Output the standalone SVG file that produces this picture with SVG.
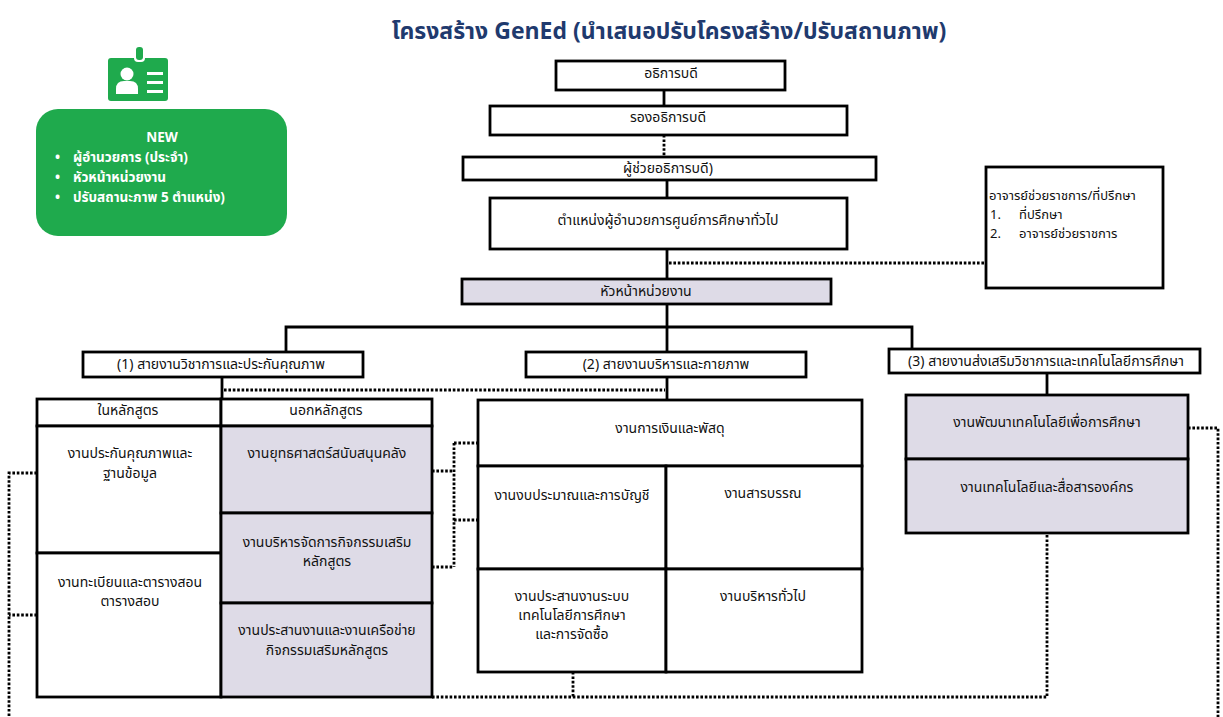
<svg xmlns="http://www.w3.org/2000/svg" width="1223" height="717" viewBox="0 0 1223 717">
<style>
text{font-family:"Noto Sans Thai","Noto Sans","DejaVu Sans",sans-serif;font-size:14px;fill:#111;}
.c{text-anchor:middle;}
.box{fill:#fff;stroke:#000;stroke-width:2.8;}
.lav{fill:#dedbe7;stroke:#000;stroke-width:2.8;}
.solid{fill:none;stroke:#000;stroke-width:2.8;}
.dot{fill:none;stroke:#000;stroke-width:2.8;stroke-dasharray:2.6 1.8;}
.w{fill:#fff;font-weight:bold;font-size:13.5px;}
.adv{font-size:13px;}
.title{font-size:23px;font-weight:bold;fill:#1f3a6e;}
</style>
<rect width="1223" height="717" fill="#fff"/>
<text class="title c" x="669" y="39">โครงสร้าง GenEd (นำเสนอปรับโครงสร้าง/ปรับสถานภาพ)</text>

<g id="new-badge">
  <rect x="108" y="58" width="60" height="43" rx="3" fill="#1faa4d"/>
  <rect x="134" y="45" width="11" height="17" rx="4" fill="#fff"/>
  <rect x="136" y="47" width="7" height="13" rx="3" fill="#1faa4d"/>
  <circle cx="127" cy="74" r="6.5" fill="#fff"/>
  <path d="M116 94 V89 Q116 81 124 81 H130 Q138 81 138 89 V94 Z" fill="#fff"/>
  <rect x="147" y="72" width="16" height="3" fill="#fff"/>
  <rect x="147" y="81" width="16" height="3" fill="#fff"/>
  <rect x="147" y="90" width="16" height="3" fill="#fff"/>
  <rect x="36" y="109" width="251" height="127" rx="22" fill="#1faa4d"/>
  <text class="w c" x="162" y="142">NEW</text>
  <text class="w" x="55" y="162">•</text>
  <text class="w" x="73" y="162">ผู้อำนวยการ (ประจำ)</text>
  <text class="w" x="55" y="182">•</text>
  <text class="w" x="73" y="182">หัวหน้าหน่วยงาน</text>
  <text class="w" x="55" y="202">•</text>
  <text class="w" x="73" y="202">ปรับสถานะภาพ 5 ตำแหน่ง)</text>
</g>

<g id="connectors">
  <path class="solid" d="M664 90 V106"/>
  <path class="dot" d="M664 135 V157"/>
  <path class="solid" d="M667 180 V198"/>
  <path class="solid" d="M667 249 V279"/>
  <path class="dot" d="M669 263 H986"/>
  <path class="solid" d="M667 304 V327"/>
  <path class="solid" d="M286 352 V327 H912 V349"/>
  <path class="solid" d="M667 327 V352"/>
  <path class="solid" d="M222 377 V399"/>
  <path class="solid" d="M667 377 V400"/>
  <path class="solid" d="M1047 373 V395"/>
  <path class="dot" d="M224 390 H665"/>
  <path class="dot" d="M432 471 H454"/>
  <path class="dot" d="M432 567 H454"/>
  <path class="dot" d="M454 443 V567"/>
  <path class="dot" d="M454 443 H478"/>
  <path class="dot" d="M454 520 H478"/>
  <path class="dot" d="M432 697 H1047 V533"/>
  <path class="dot" d="M573 672 V697"/>
  <path class="dot" d="M1188 428 H1218 V717"/>
  <path class="dot" d="M37 473 H9 V717"/>
  <path class="dot" d="M37 615 H9"/>
</g>

<g id="president">
  <rect class="box" x="556" y="61" width="229" height="29"/>
  <text class="c" x="671" y="78">อธิการบดี</text>
</g>
<g id="vice-president">
  <rect class="box" x="490" y="106" width="357" height="29"/>
  <text class="c" x="668" y="122">รองอธิการบดี</text>
</g>
<g id="assistant">
  <rect class="box" x="463" y="157" width="413" height="23"/>
  <text class="c" x="668" y="173">ผู้ช่วยอธิการบดี)</text>
</g>
<g id="director">
  <rect class="box" x="490" y="198" width="357" height="51"/>
  <text class="c" x="668" y="225">ตำแหน่งผู้อำนวยการศูนย์การศึกษาทั่วไป</text>
</g>
<g id="advisor">
  <rect class="box" x="986" y="167" width="177" height="121"/>
  <text class="adv" x="989" y="200">อาจารย์ช่วยราชการ/ที่ปรึกษา</text>
  <text class="adv" x="990" y="219">1.</text>
  <text class="adv" x="1019" y="219">ที่ปรึกษา</text>
  <text class="adv" x="990" y="238">2.</text>
  <text class="adv" x="1019" y="238">อาจารย์ช่วยราชการ</text>
</g>
<g id="unit-head">
  <rect class="lav" x="462" y="279" width="369" height="25"/>
  <text class="c" x="646" y="296">หัวหน้าหน่วยงาน</text>
</g>

<g id="line1">
  <rect class="box" x="83" y="352" width="280" height="25"/>
  <text class="c" x="221" y="369">(1) สายงานวิชาการและประกันคุณภาพ</text>
</g>
<g id="line2">
  <rect class="box" x="526" y="352" width="280" height="25"/>
  <text class="c" x="666" y="369">(2) สายงานบริหารและกายภาพ</text>
</g>
<g id="line3">
  <rect class="box" x="889" y="349" width="311" height="24"/>
  <text class="c" x="1046" y="366">(3) สายงานส่งเสริมวิชาการและเทคโนโลยีการศึกษา</text>
</g>

<g id="in-curriculum">
  <rect class="box" x="37" y="399" width="184" height="27"/>
  <text class="c" x="128" y="415">ในหลักสูตร</text>
  <rect class="box" x="37" y="426" width="184" height="127"/>
  <text class="c" x="130" y="458">งานประกันคุณภาพและ</text>
  <text class="c" x="130" y="478">ฐานข้อมูล</text>
  <rect class="box" x="37" y="553" width="184" height="144"/>
  <text class="c" x="130" y="587">งานทะเบียนและตารางสอน</text>
  <text class="c" x="130" y="606">ตารางสอบ</text>
</g>
<g id="out-curriculum">
  <rect class="box" x="221" y="399" width="211" height="27"/>
  <text class="c" x="326" y="415">นอกหลักสูตร</text>
  <rect class="lav" x="221" y="426" width="211" height="87"/>
  <text class="c" x="327" y="458">งานยุทธศาสตร์สนับสนุนคลัง</text>
  <rect class="lav" x="221" y="513" width="211" height="90"/>
  <text class="c" x="327" y="547">งานบริหารจัดการกิจกรรมเสริม</text>
  <text class="c" x="327" y="566">หลักสูตร</text>
  <rect class="lav" x="221" y="603" width="211" height="94"/>
  <text class="c" x="327" y="635">งานประสานงานและงานเครือข่าย</text>
  <text class="c" x="327" y="655">กิจกรรมเสริมหลักสูตร</text>
</g>

<g id="admin-units">
  <rect class="box" x="478" y="400" width="384" height="66"/>
  <text class="c" x="670" y="433">งานการเงินและพัสดุ</text>
  <rect class="box" x="478" y="466" width="188" height="103"/>
  <text class="c" x="572" y="500">งานงบประมาณและการบัญชี</text>
  <rect class="box" x="666" y="466" width="196" height="103"/>
  <text class="c" x="763" y="498">งานสารบรรณ</text>
  <rect class="box" x="478" y="569" width="188" height="103"/>
  <text class="c" x="572" y="601">งานประสานงานระบบ</text>
  <text class="c" x="572" y="620">เทคโนโลยีการศึกษา</text>
  <text class="c" x="572" y="639">และการจัดซื้อ</text>
  <rect class="box" x="666" y="569" width="196" height="103"/>
  <text class="c" x="763" y="601">งานบริหารทั่วไป</text>
</g>

<g id="tech-units">
  <rect class="lav" x="906" y="395" width="282" height="64"/>
  <text class="c" x="1047" y="427">งานพัฒนาเทคโนโลยีเพื่อการศึกษา</text>
  <rect class="lav" x="906" y="459" width="282" height="74"/>
  <text class="c" x="1047" y="492">งานเทคโนโลยีและสื่อสารองค์กร</text>
</g>
</svg>
